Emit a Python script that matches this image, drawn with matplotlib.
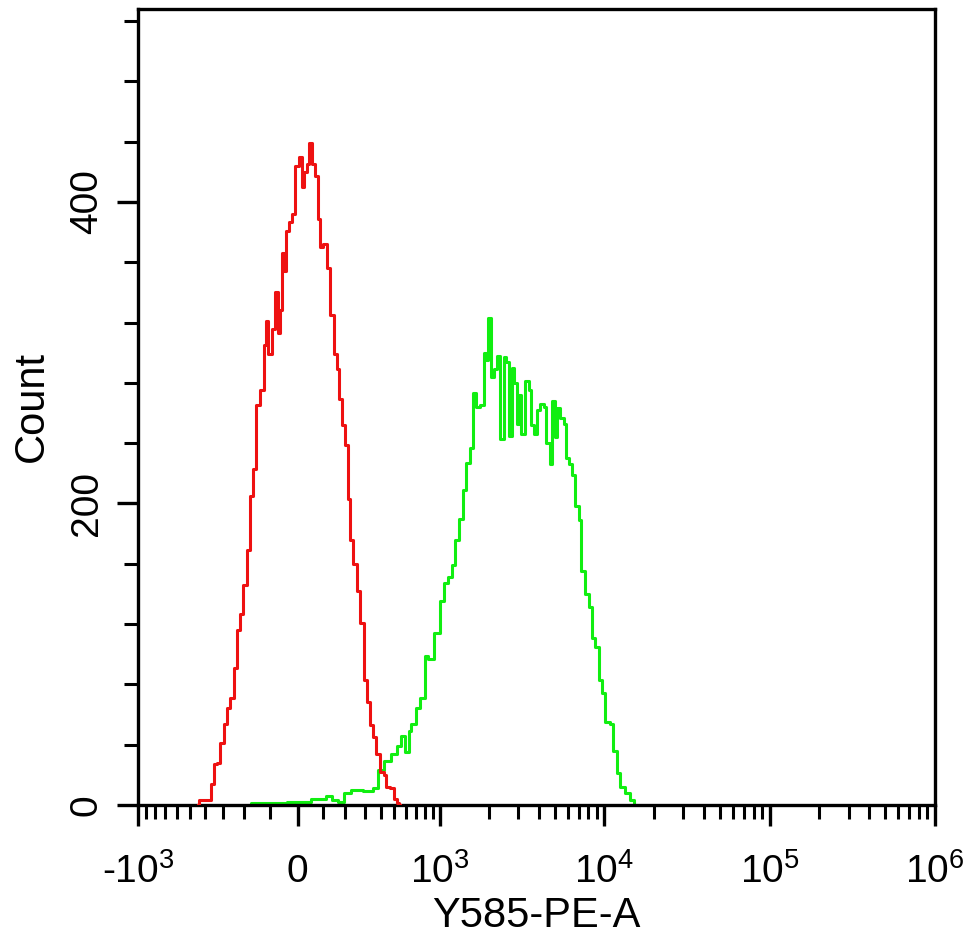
import numpy as np
import matplotlib
matplotlib.use("Agg")
import matplotlib.pyplot as plt
from matplotlib.ticker import MultipleLocator, FixedLocator

# ── data: histogram counts (x in Y585-PE-A units) ──
red_x = [-443, -424, -369, -358, -341, -325, -304, -289, -274, -255,
         -241, -227, -210, -197, -184, -168, -156, -144, -128, -117,
         -113, -98, -87, -76, -66, -59, -51, -44, -37, -27,
         -16, -2, 9, 21, 32, 40, 52, 64, 76, 84,
         92, 109, 122, 139, 152, 166, 175, 189, 208, 213,
         232, 248, 264, 286, 303, 320, 344, 363, 382, 410,
         431, 445, 483, 507, 534, 548]
red_y = [0, 3, 3, 14, 27, 28, 41, 54, 64, 71,
         91, 116, 127, 146, 169, 205, 223, 265, 275, 305,
         321, 299, 316, 340, 313, 328, 366, 354, 381, 387,
         392, 424, 430, 410, 420, 425, 439, 425, 417, 389,
         370, 372, 356, 325, 299, 289, 269, 252, 239, 203,
         176, 160, 142, 121, 83, 68, 53, 45, 34, 22,
         20, 12, 11, 4, 1, 0]

green_x = [-176, -168, -148, -106, -51, -27, 36, 68, 101, 122,
           152, 175, 208, 248, 332, 363, 396, 452, 491, 548,
           574, 611, 639, 669, 721, 765, 824, 861, 968, 1025,
           1071, 1150, 1201, 1271, 1327, 1424, 1486, 1572, 1638, 1710,
           1812, 1890, 1944, 1999, 2085, 2175, 2268, 2399, 2502, 2609,
           2684, 2799, 2878, 3002, 3086, 3219, 3404, 3550, 3650, 3806,
           3969, 4197, 4376, 4563, 4826, 4893, 5174, 5247, 5547, 5784,
           5948, 6201, 6467, 6838, 7129, 7433, 7860, 8195, 8546, 9036,
           9420, 9822, 10385, 11133, 11609, 12104, 12797, 13720, 14711, 15338]
green_y = [0, 1, 1, 1, 1, 2, 2, 4, 4, 6,
           3, 2, 8, 10, 9, 11, 23, 29, 34, 39,
           46, 35, 49, 54, 64, 71, 99, 97, 114, 135,
           147, 151, 159, 176, 190, 209, 227, 237, 273, 264,
           265, 300, 295, 323, 284, 289, 298, 243, 297, 294,
           245, 290, 280, 253, 272, 246, 281, 275, 252, 246,
           262, 266, 264, 240, 226, 268, 244, 263, 257, 253,
           230, 226, 219, 198, 189, 155, 140, 131, 111, 105,
           83, 74, 55, 54, 36, 21, 12, 8, 3, 0]

x_ticks = [-1e3, 0, 1e3, 1e4, 1e5, 1e6]
x_labels = [r"-$10^{3}$", "0", r"$10^{3}$", r"$10^{4}$", r"$10^{5}$", r"$10^{6}$"]
y_ticks = [0, 200, 400]


# ── biexponential-like axis (asinh, negative side a little wider) ──
def biex_fwd(x):
    x = np.asarray(x, dtype=float)
    return np.where(x >= 0, np.arcsinh(x / 280.0), 1.12 * np.arcsinh(x / 280.0))


def biex_inv(u):
    u = np.asarray(u, dtype=float)
    return np.where(u >= 0, 280.0 * np.sinh(u), 280.0 * np.sinh(u / 1.12))


plt.rcParams["font.family"] = ["Liberation Sans", "DejaVu Sans"]
plt.rcParams["mathtext.fontset"] = "custom"
plt.rcParams["mathtext.rm"] = "Liberation Sans"
plt.rcParams["mathtext.it"] = "Liberation Sans"
plt.rcParams["mathtext.bf"] = "Liberation Sans"

fig = plt.figure(figsize=(9.70, 9.36), dpi=100)
ax = fig.add_axes([0.1423, 0.140, 0.8216, 0.8504])

ax.plot(red_x, red_y, color="#ee1111", lw=2.2, drawstyle="steps-mid", zorder=3)
ax.plot(green_x, green_y, color="#11ee11", lw=2.2, drawstyle="steps-mid", zorder=2)

ax.set_xscale("function", functions=(biex_fwd, biex_inv))
ax.set_xlim(-1e3, 1e6)
ax.set_ylim(0, 528)

# minor ticks
minors = [-m * 100 for m in range(1, 10)] + [m * 100 for m in range(1, 10)]
for dec in (1e3, 1e4, 1e5):
    minors += [m * dec for m in range(2, 10)]
ax.xaxis.set_minor_locator(FixedLocator(minors))
ax.set_xticks(x_ticks)
ax.set_xticklabels(x_labels)
ax.set_yticks(y_ticks)
ax.yaxis.set_minor_locator(MultipleLocator(40))

ax.tick_params(which="major", direction="out", length=15, width=2.4, color="black",
               labelsize=28, pad=20)
ax.tick_params(which="minor", direction="out", length=10, width=2.2, color="black")
ax.tick_params(axis="y", which="major", labelrotation=90, pad=9)
for lab in ax.get_yticklabels():
    lab.set_va("center")

for sp in ax.spines.values():
    sp.set_linewidth(2.4)
    sp.set_color("black")

ax.set_xlabel("Y585-PE-A", fontsize=30, labelpad=3)
ax.set_ylabel("Count", fontsize=30, labelpad=12)

fig.savefig("out.png", dpi=100)
